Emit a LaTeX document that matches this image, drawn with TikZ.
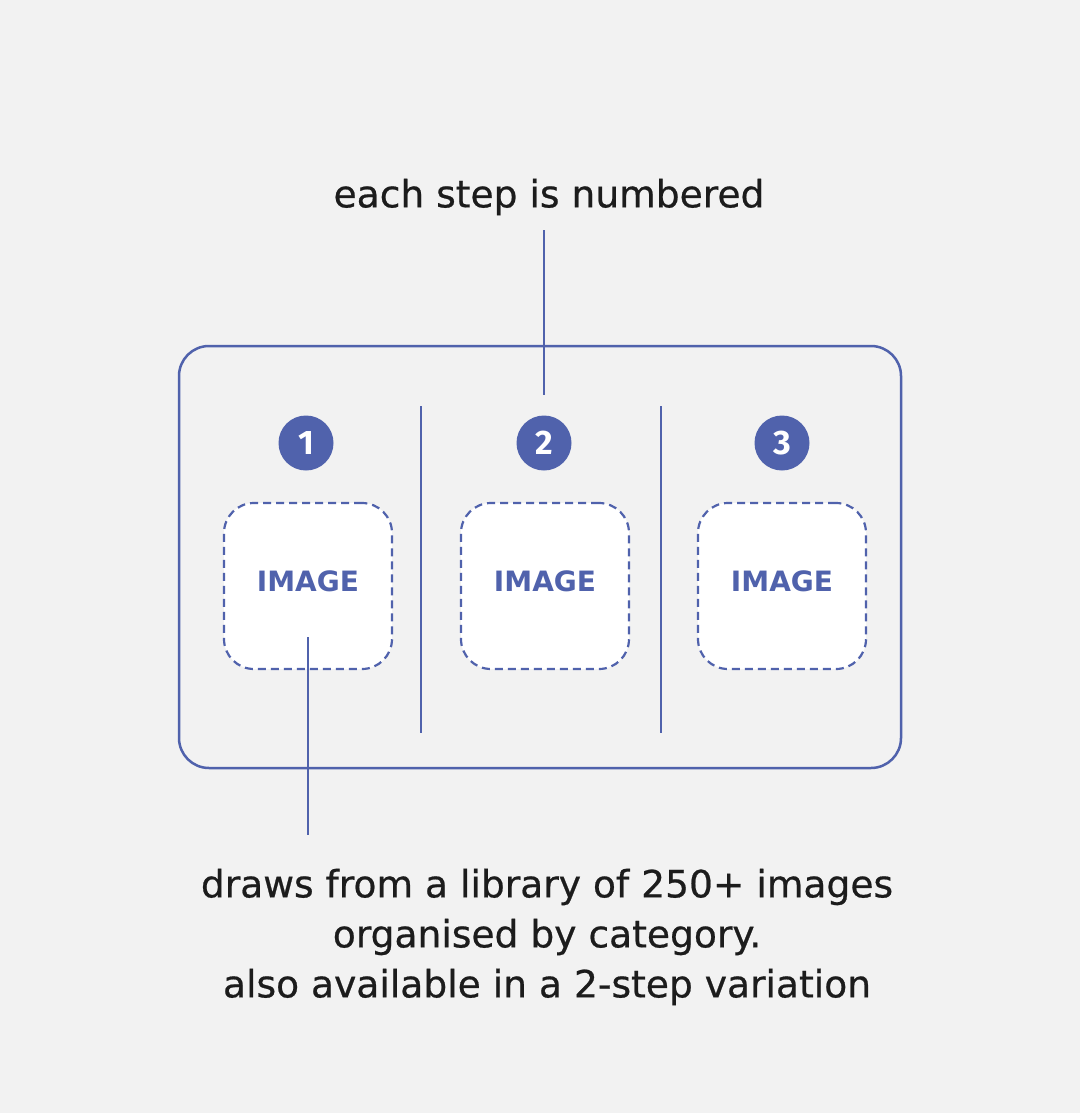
\documentclass[tikz,border=0pt]{standalone}
\usepackage{fontspec}
\setmainfont{DejaVu Sans}[FakeBold=0.6]
\newfontfamily\boxfont{DejaVu Sans}
\newfontfamily\numfont{Fira Sans}
\usetikzlibrary{positioning}
\definecolor{stepblue}{RGB}{80,98,172}
\definecolor{paper}{RGB}{242,242,242}
\definecolor{ink}{RGB}{28,28,28}

\begin{document}
\begin{tikzpicture}[x=1pt,y=-1pt,
  frameline/.style={draw=stepblue,line width=2.5pt},
  numdot/.style={circle,fill=stepblue,text=white,minimum size=55pt,inner sep=0pt,
    font=\numfont\fontsize{34}{34}\selectfont\bfseries},
  imgbox/.style={draw=stepblue,dash pattern=on 8pt off 5pt,line width=2.2pt,fill=white,
    rounded corners=30pt,minimum width=168pt,minimum height=166pt},
  imglabel/.style={text=stepblue,font=\boxfont\fontsize{28}{28}\selectfont\bfseries},
  note/.style={text=ink,align=center,inner sep=0pt,font=\fontsize{37.6}{50}\selectfont}]

\useasboundingbox (0,0) rectangle (1080,1113);
\fill[paper] (0,0) rectangle (1080,1113);

% frame round the three steps
\draw[frameline,rounded corners=30pt] (179,346) rectangle (901,768);
\draw[frameline] (421,406) -- (421,733);
\draw[frameline] (661,406) -- (661,733);

\foreach \i/\x/\bx in {1/306/308, 2/544/545, 3/782/782}{

\node[numdot] (step\i) at (\x,443) {\i};
\node[imgbox] (img\i) at (\bx,586) {};
\node[imglabel] (lbl\i) at (\bx,581) {IMAGE};

}

% callouts
\node[note] (top) at (549,197) {each step is numbered};
\node[note] (bottom) at (547,937) {draws from a library of 250+ images\\organised by category.\\also available in a 2-step variation};

\coordinate (pin1) at (308,637);
\coordinate (pin2) at (544,395);

\draw[frameline] (544,230) -- (pin2);
\draw[frameline] (pin1) -- (308,835);

\end{tikzpicture}
\end{document}
